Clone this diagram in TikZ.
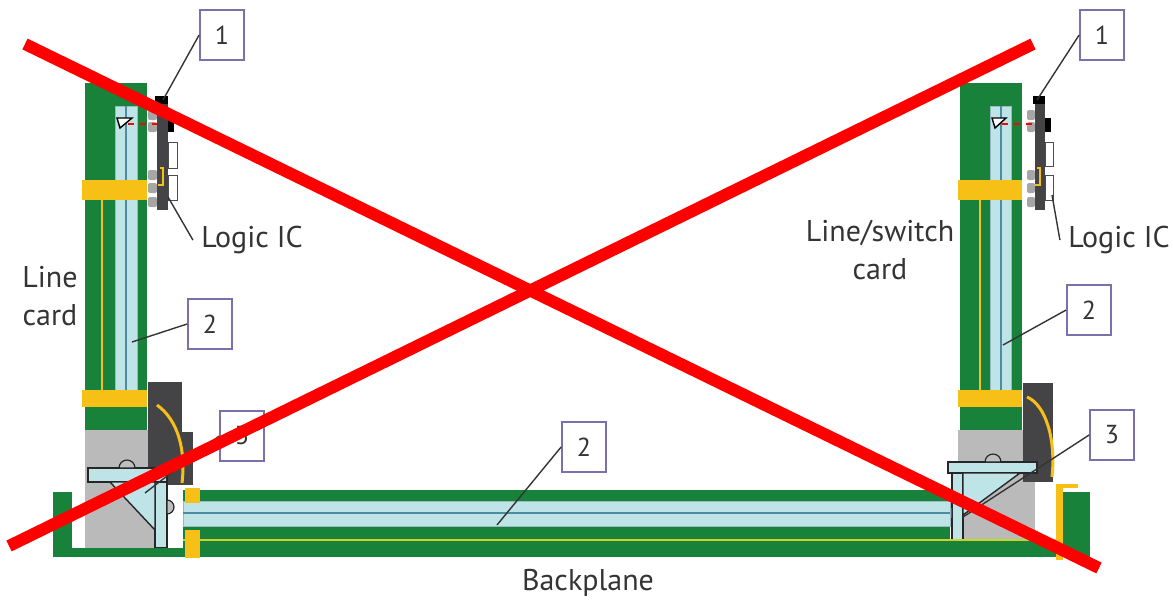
\documentclass[tikz,border=0pt]{standalone}
\usepackage{fontspec}
\setmainfont{PT Sans}
\definecolor{pcb}{RGB}{24,130,58}
\definecolor{core}{RGB}{190,228,232}
\definecolor{fibreblue}{RGB}{80,140,160}
\definecolor{gold}{RGB}{246,192,22}
\definecolor{lime}{RGB}{205,210,40}
\definecolor{block}{RGB}{186,186,186}
\definecolor{conn}{RGB}{68,68,70}
\definecolor{tagline}{RGB}{122,112,172}
\definecolor{ink}{RGB}{52,52,52}
\tikzstyle{chassis}=[x=0.5pt, y=-0.5pt, font=\fontsize{15}{19}\selectfont]
\tikzstyle{numbox}=[draw=tagline, fill=white, line width=0.9pt, minimum width=22pt, minimum height=25pt, inner sep=0pt, font=\fontsize{13}{13}\selectfont, text=ink]
\tikzstyle{caption}=[inner sep=4pt, align=center, text=ink]
\tikzstyle{leader}=[-, draw=ink, line width=0.7pt]
\tikzstyle{strip}=[fill=core, draw=fibreblue!60, line width=0.4pt]
\tikzstyle{fibre}=[draw=fibreblue, line width=0.8pt]
\tikzstyle{goldline}=[draw=gold, line width=1.3pt]
\tikzstyle{wire}=[draw=gold, line width=1.5pt]
\tikzstyle{chip}=[fill=conn]
\tikzstyle{bracket}=[fill=core, draw=black!85, line width=0.7pt]
\tikzstyle{screw}=[fill=black!25, draw=black!85, line width=0.6pt]
\tikzstyle{pad}=[fill=white, draw=black!70, line width=0.5pt]
\tikzstyle{leg}=[fill=black!35, rounded corners=1pt]
\tikzstyle{prism}=[fill=white, draw=black, line width=0.7pt]
\tikzstyle{beam}=[draw=red, dashed, line width=0.6pt]
\tikzstyle{cross}=[draw=red, line width=6pt]

\begin{document}
\begin{tikzpicture}[chassis]
	\useasboundingbox (0,0) rectangle (1173,602);
	%%%%%% left line card
	\fill[pcb] (85,83) rectangle (147,430);
	\draw[strip] (115,106) rectangle (137,390);
	\draw[fibre] (126,106) -- (126,390);
	\draw[goldline] (102,200) -- (102,390);
	\fill[gold] (82,180) rectangle (147,200);
	\fill[gold] (82,390) rectangle (147,407);
	%%
	\fill[block] (85,430) rectangle (155,548);
	\fill[chip] (148,382) rectangle (182,467);
	\fill[chip] (148,432) rectangle (193,485);
	\draw[wire] (157,405) .. controls (178,420) and (186,450) .. (182,483);
	%%
	\draw[bracket] (88,468) rectangle (167,482);
	\draw[bracket] (155,482) rectangle (167,548);
	\draw[bracket] (110,482) -- (155,482) -- (155,530) -- cycle;
	\draw[screw] (119,468) arc (180:360:8) -- cycle;
	\draw[screw] (167,500) arc (270:450:7) -- cycle;
	%%
	\fill[leg] (148,110) rectangle (157,120);
	\fill[leg] (148,122) rectangle (157,132);
	\fill[leg] (148,170) rectangle (157,180);
	\fill[leg] (148,183) rectangle (157,193);
	\fill[leg] (148,197) rectangle (157,207);
	\fill[chip] (157,100) rectangle (168,210);
	\fill[black] (155,96) rectangle (168,104);
	\fill[black] (168,118) rectangle (174,132);
	\draw[pad] (168,142) rectangle (177,168);
	\draw[pad] (168,175) rectangle (177,200);
	\draw[goldline] (160,168) -- (163,168) -- (163,185) -- (158,185);
	\draw[prism] (117,118) -- (132,118) -- (120,128) -- cycle;
	\draw[beam] (128,124) -- (157,124);
	%%%%%% right line/switch card
	\fill[pcb] (960,83) rectangle (1022,430);
	\draw[strip] (990,106) rectangle (1011,390);
	\draw[fibre] (1001,106) -- (1001,390);
	\draw[goldline] (980,200) -- (980,390);
	\fill[gold] (958,180) rectangle (1022,200);
	\fill[gold] (958,390) rectangle (1022,407);
	%%
	\fill[block] (958,430) rectangle (1035,540);
	\fill[chip] (1023,383) rectangle (1053,482);
	\draw[wire] (1027,397) .. controls (1046,405) and (1056,440) .. (1052,477);
	%%
	\draw[bracket] (948,462) rectangle (1037,473);
	\draw[bracket] (952,473) rectangle (963,542);
	\draw[bracket] (963,473) -- (1020,473) -- (963,515) -- cycle;
	\draw[screw] (985,462) arc (180:360:8) -- cycle;
	\draw[screw] (952,507) arc (270:90:6) -- cycle;
	%%
	\fill[leg] (1027,110) rectangle (1035,120);
	\fill[leg] (1027,122) rectangle (1035,132);
	\fill[leg] (1027,170) rectangle (1035,180);
	\fill[leg] (1027,183) rectangle (1035,193);
	\fill[leg] (1027,197) rectangle (1035,207);
	\fill[chip] (1035,100) rectangle (1045,210);
	\fill[black] (1033,96) rectangle (1045,104);
	\fill[black] (1045,118) rectangle (1051,132);
	\draw[pad] (1045,142) rectangle (1053,166);
	\draw[pad] (1045,175) rectangle (1053,200);
	\draw[goldline] (1037,168) -- (1040,168) -- (1040,185) -- (1035,185);
	\draw[prism] (992,118) -- (1006,118) -- (995,128) -- cycle;
	\draw[beam] (1002,124) -- (1035,124);
	%%%%%% backplane
	\fill[pcb] (183,490) rectangle (950,557);
	\draw[strip] (183,501) rectangle (950,526);
	\draw[fibre] (183,513) -- (950,513);
	\fill[pcb] (950,540) rectangle (1090,557);
	\draw[draw=lime, line width=1.3pt] (183,540) -- (1058,540);
	\fill[pcb] (53,548) rectangle (185,557);
	\fill[pcb] (53,492) rectangle (72,557);
	\fill[gold] (185,488) rectangle (200,503);
	\fill[gold] (185,530) rectangle (200,558);
	\fill[pcb] (1063,492) rectangle (1090,557);
	\fill[gold] (1056,484) rectangle (1063,560);
	\fill[gold] (1056,484) rectangle (1078,488);
	%%%%%% labels
	\draw (222,35) node[numbox] (n1l) {1};
	\draw (1102,35) node[numbox] (n1r) {1};
	\draw (210,324) node[numbox] (n2l) {2};
	\draw (1089,310) node[numbox] (n2r) {2};
	\draw (584,447) node[numbox] (n2m) {2};
	\draw (242,436) node[numbox] (n3l) {3};
	\draw (1112,435) node[numbox] (n3r) {3};
	\draw (252,240) node[caption] (icl) {Logic IC};
	\draw (1119,240) node[caption] (icr) {Logic IC};
	\draw (50,296) node[caption] (lc) {Line\\card};
	\draw (880,250) node[caption] (lsc) {Line/switch\\card};
	\draw (588,583) node[caption] (bp) {Backplane};
	%%
	\coordinate (p1l) at (163,100);
	\coordinate (p1r) at (1037,100);
	\coordinate (pil) at (168,197);
	\coordinate (pir) at (1052,195);
	\coordinate (p2l) at (132,342);
	\coordinate (p2r) at (1003,345);
	\coordinate (p2m) at (497,525);
	\coordinate (p3l) at (145,493);
	\coordinate (p3r) at (963,517);
	\draw[leader] (n1l.west) -- (p1l);
	\draw[leader] (n1r.west) -- (p1r);
	\draw[leader] (pil) -- (icl.west);
	\draw[leader] (pir) -- (icr.west);
	\draw[leader] (n2l.west) -- (p2l);
	\draw[leader] (n2r.west) -- (p2r);
	\draw[leader] (n2m.west) -- (p2m);
	\draw[leader] (n3l.west) -- (p3l);
	\draw[leader] (n3r.west) -- (p3r);
	%%%%%% cross
	\coordinate (xa) at (25,44);
	\coordinate (xb) at (1099,568);
	\coordinate (xc) at (9,546);
	\coordinate (xd) at (1033,44);
	\draw[cross] (xa) -- (xb);
	\draw[cross] (xc) -- (xd);
\end{tikzpicture}
\end{document}
